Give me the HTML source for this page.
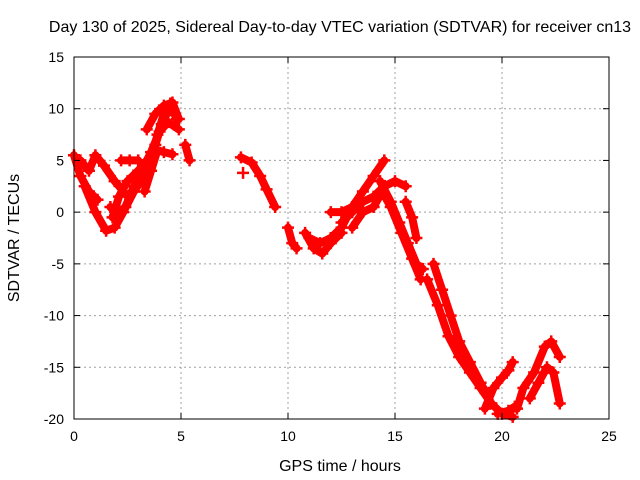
<!DOCTYPE html>
<html><head><meta charset="utf-8"><style>
body{margin:0;background:#fff;}
svg{display:block;font-family:"Liberation Sans",sans-serif;}
</style></head><body>
<svg id="chart" width="640" height="480">
<text x="340" y="32" text-anchor="middle" font-size="16">Day 130 of 2025, Sidereal Day-to-day VTEC variation (SDTVAR) for receiver cn13</text>
<text x="340" y="471" text-anchor="middle" font-size="16">GPS time / hours</text>
<text transform="translate(19,238) rotate(-90)" text-anchor="middle" font-size="16">SDTVAR / TECUs</text>
<g id="grid"></g><g id="marks"></g><g id="axes"></g>
</svg>
<script>
const xTicks=[0,5,10,15,20,25];
const yTicks=[15,10,5,0,-5,-10,-15,-20];
const series1=[[0,5.5],[0.3,3.5],[0.7,2.0],[1.1,1.2]];
const series2=[[0.3,5.0],[0.7,4.0],[1.0,5.5],[1.4,4.5],[1.9,3.0],[2.4,1.8]];
const series3=[[0.5,2.5],[1.0,0.0],[1.5,-1.8],[1.9,-1.5],[2.3,0],[2.8,2.0],[3.3,3.5],[3.6,5.0],[3.9,7.5],[4.2,9.5],[4.5,10.5],[4.8,9.0]];
const series4=[[1.8,-0.5],[2.1,1.5],[2.5,3.0],[3.0,4.0],[3.4,5.0],[3.8,6.5],[4.1,8.5],[4.4,9.8],[4.7,9.5]];
const series5=[[1.7,0.5],[2.0,-0.2],[2.4,0.5],[2.8,2.5],[3.2,4.0],[3.6,5.8],[4.0,7.8],[4.4,8.7],[4.9,8.0]];
const series6=[[2.2,5.0],[2.6,5.0],[3.0,5.0]];
const series7=[[3.3,2.0],[3.6,4.0],[3.9,6.0],[4.2,5.8],[4.6,5.6]];
const series8=[[3.4,8.0],[3.8,9.5],[4.2,10.3],[4.6,10.6],[4.9,9.0]];
const series9=[[5.2,6.5],[5.4,5.0]];
const series10=[[7.8,5.3],[8.3,4.8],[8.7,3.5],[9.0,2.2],[9.4,0.5]];
const series11=[[7.9,3.8]];
const series12=[[10.0,-1.5],[10.2,-3],[10.4,-3.5]];
const series13=[[10.8,-2.0],[11.2,-3.5],[11.6,-4.0],[12.0,-3.0],[12.5,-2.0]];
const series14=[[11.0,-2.5],[11.5,-3.0],[12.0,-2.5],[12.5,-1.5],[13,0.5]];
const series15=[[12.0,0],[12.5,0],[13,0.5],[13.5,2.0],[14,3.5],[14.5,5.0]];
const series16=[[12.5,-1],[13,0],[13.5,1.0],[14,1.5],[14.5,2.5],[15,3.0],[15.5,2.5]];
const series17=[[13,-1.5],[13.5,0],[14,0.5],[14.4,2],[14.8,0.5],[15.3,-2],[15.8,-4.5],[16.2,-6.5]];
const series18=[[14.3,3.0],[14.8,1.0],[15.2,-1.0],[15.6,-3.0],[16.0,-5.0],[16.3,-5.5]];
const series19=[[15.5,1.0],[15.8,-0.5],[16.0,-2.5]];
const series20=[[16.8,-5.0],[17.2,-7.5],[17.6,-10],[18.0,-12.5],[18.5,-14.5],[19.0,-16.5],[19.5,-18.5],[20.0,-19.5],[20.5,-19.8]];
const series21=[[16.5,-6.5],[17.0,-9],[17.5,-12],[18.0,-14],[18.5,-15.5],[19.0,-17],[19.5,-18.5]];
const series22=[[19.2,-19],[19.6,-17],[20.0,-16],[20.3,-15.3],[20.5,-14.5]];
const series23=[[19.8,-19.5],[20.3,-19.2],[20.6,-18.8]];
const series24=[[20.7,-19],[21,-17],[21.5,-15.5],[22.0,-13],[22.3,-12.5],[22.7,-14]];
const series25=[[21.3,-18],[21.7,-16.5],[22.1,-15],[22.4,-15.5],[22.7,-18.5]];
const allSeries=[series1,series2,series3,series4,series5,series6,series7,series8,series9,series10,series11,series12,series13,series14,series15,series16,series17,series18,series19,series20,series21,series22,series23,series24,series25];

const NS='http://www.w3.org/2000/svg';
const L=74,R=609,T=57,B=419,xMin=0,xMax=25,yMin=-20,yMax=15;
function xS(v){return L+(v-xMin)/(xMax-xMin)*(R-L);}
function yS(v){return B-(v-yMin)/(yMax-yMin)*(B-T);}
function mk(tag,at,parent){const e=document.createElementNS(NS,tag);for(const k in at)e.setAttribute(k,at[k]);parent.appendChild(e);return e;}
const grid=document.getElementById('grid'),axes=document.getElementById('axes'),marks=document.getElementById('marks');
xTicks.forEach(t=>{
  const x=xS(t);
  if(t>xMin&&t<xMax){const g=mk('line',{x1:x,x2:x,y1:T,y2:B,stroke:'#a0a0a0','stroke-dasharray':'2,3'},grid);
  
  }
  mk('line',{x1:x,x2:x,y1:B,y2:B-6,stroke:'#000'},axes);
  mk('line',{x1:x,x2:x,y1:T,y2:T+6,stroke:'#000'},axes);
  const lb=mk('text',{x:x,y:B+22,'text-anchor':'middle','font-size':14},axes);lb.textContent=t;
  
  
});
yTicks.forEach(t=>{
  const y=yS(t);
  if(t>yMin&&t<yMax){const g=mk('line',{x1:L,x2:R,y1:y,y2:y,stroke:'#a0a0a0','stroke-dasharray':'2,3'},grid);
  
  }
  mk('line',{x1:L,x2:L+6,y1:y,y2:y,stroke:'#000'},axes);
  mk('line',{x1:R,x2:R-6,y1:y,y2:y,stroke:'#000'},axes);
  const lb=mk('text',{x:L-10,y:y+5,'text-anchor':'end','font-size':14},axes);lb.textContent=t;
  
  
});
const fr=mk('rect',{x:L,y:T,width:R-L,height:B-T,fill:'none',stroke:'#000'},axes);


allSeries.forEach((s,i)=>{
  const pts=s.map(p=>xS(p[0])+','+yS(p[1])).join(' ');
  const pl=mk('polyline',{points:pts,fill:'none',stroke:'#ff0000','stroke-width':8,'stroke-linecap':'round','stroke-linejoin':'round'},marks);
  
  
  s.forEach(p=>{
    const x=xS(p[0]),y=yS(p[1]);
    const m=mk('path',{d:`M${x-6},${y}H${x+6}M${x},${y-6}V${y+6}`,stroke:'#ff0000','stroke-width':2.5},marks);
    
    
  });
});
</script>
</body></html>
